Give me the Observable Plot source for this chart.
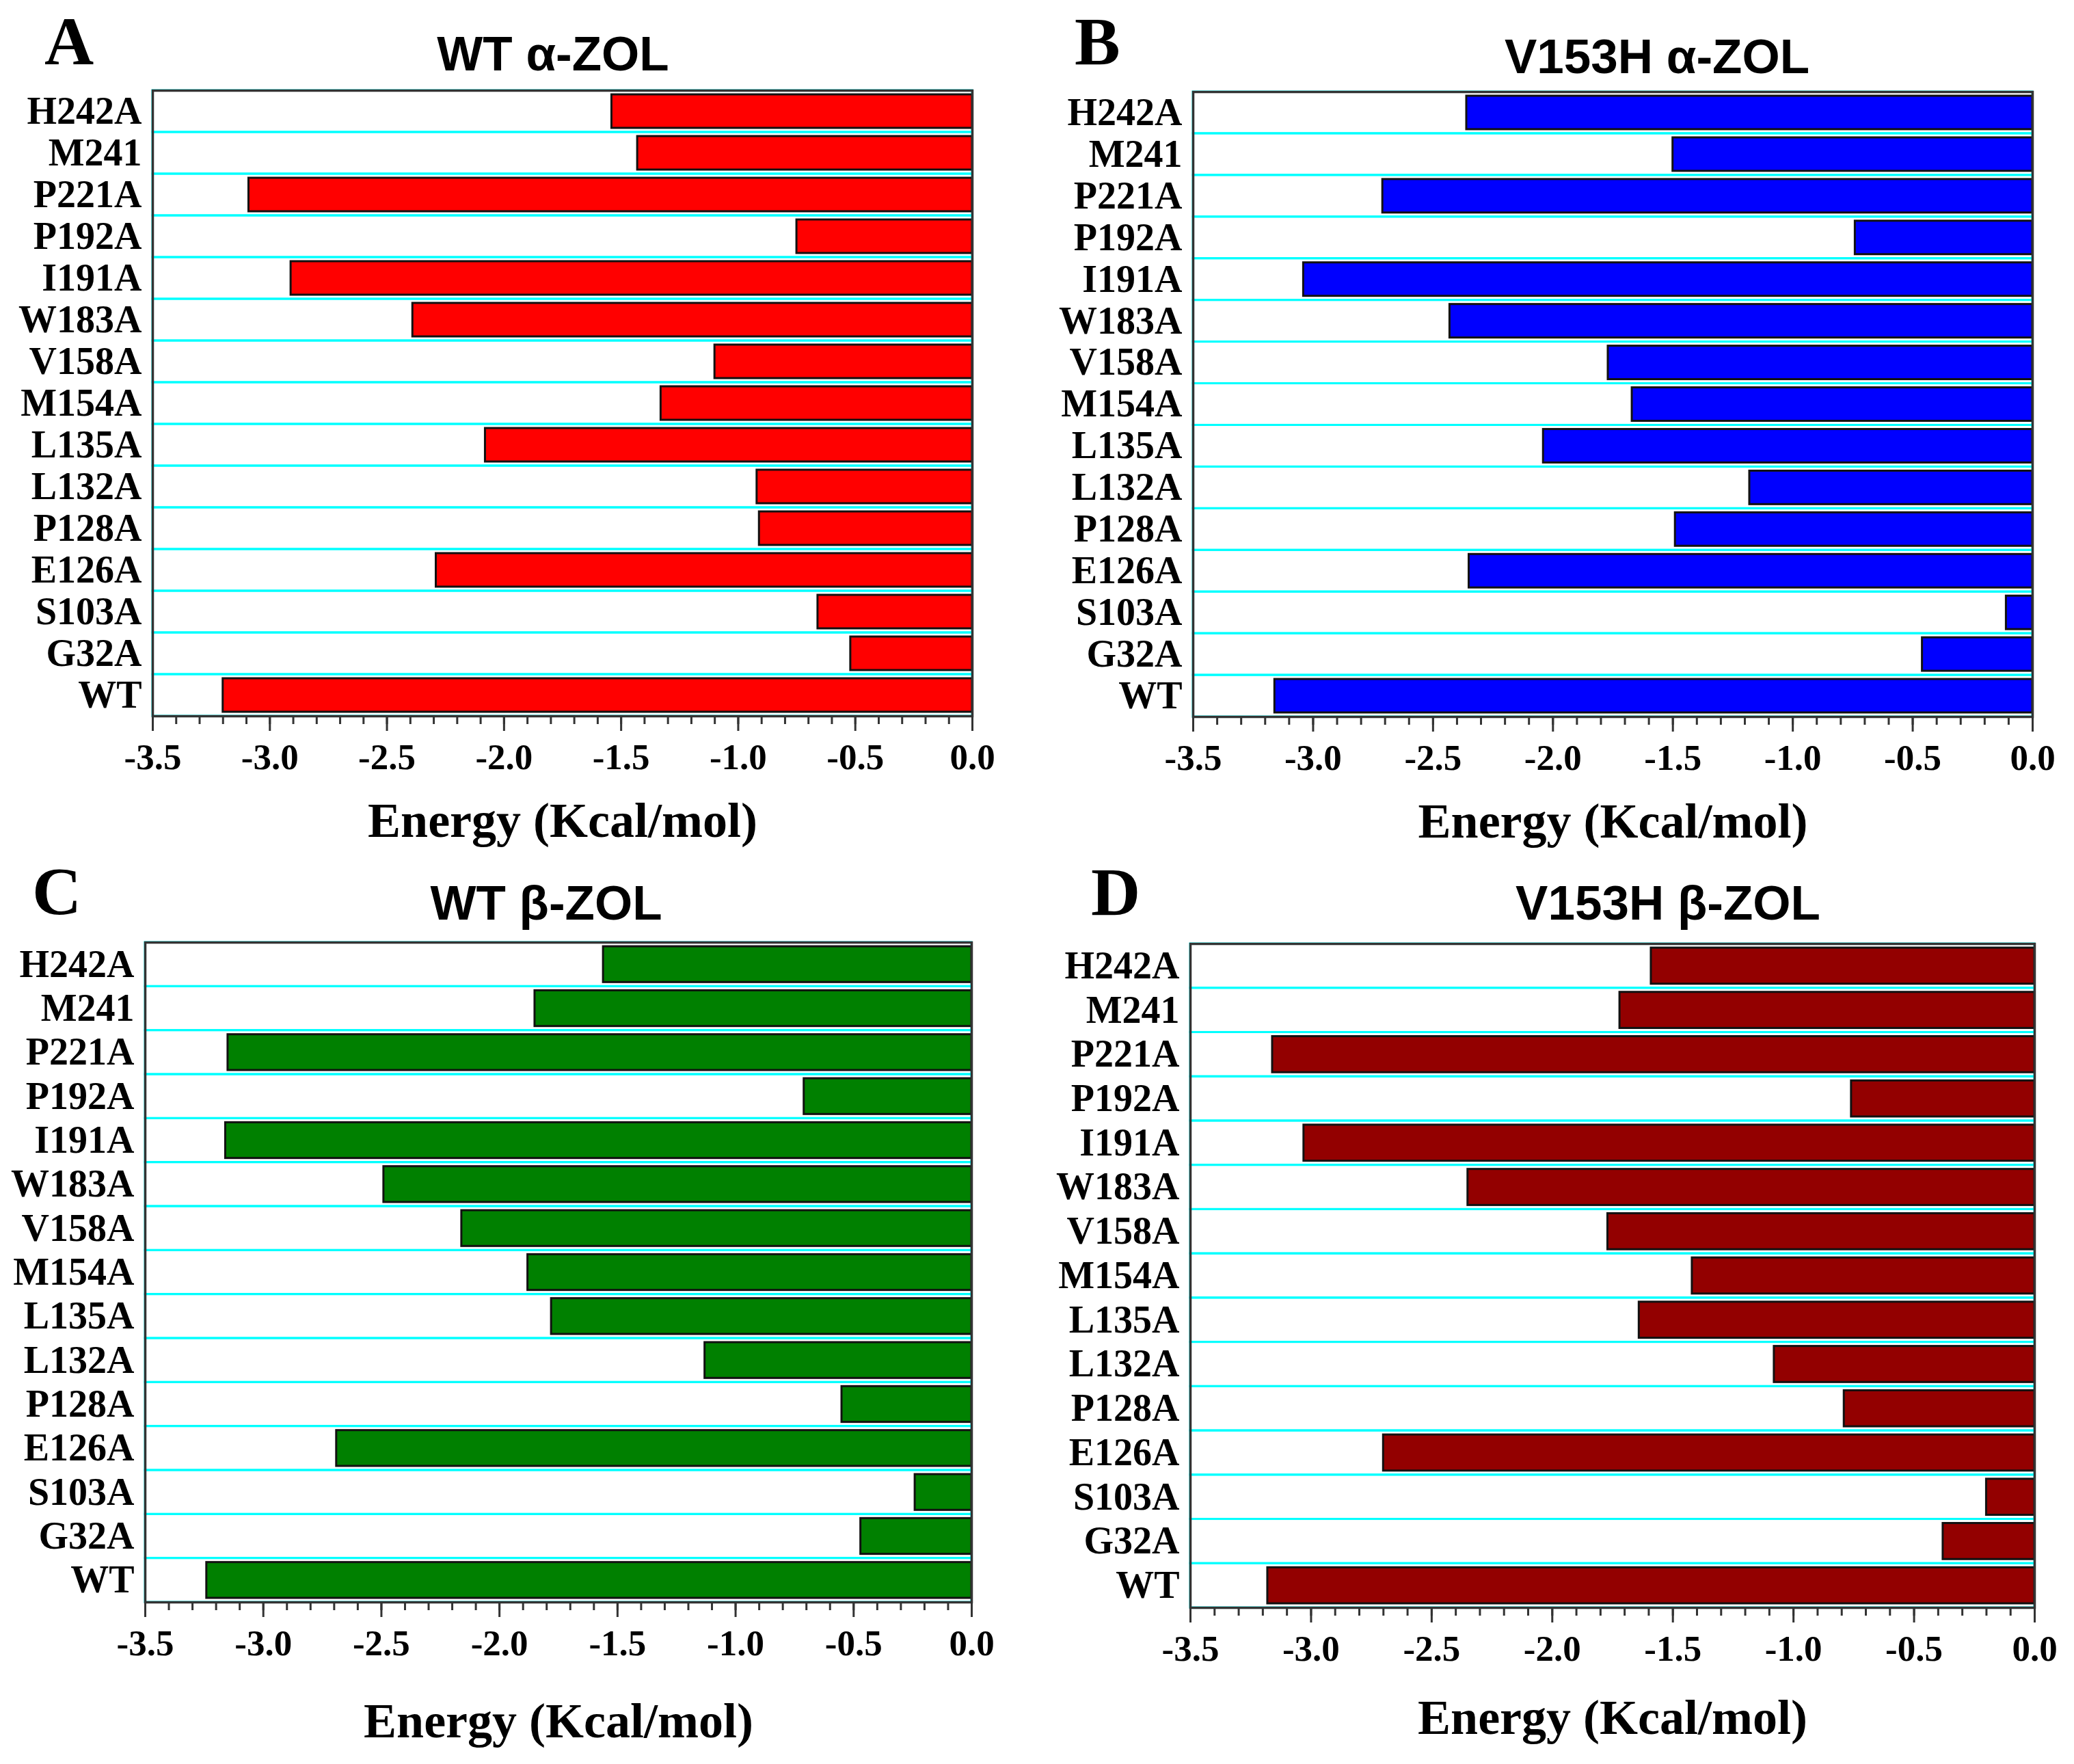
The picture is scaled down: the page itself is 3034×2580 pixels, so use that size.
<!DOCTYPE html>
<html>
<head>
<meta charset="utf-8">
<script src="https://cdn.jsdelivr.net/npm/d3@7"></script>
<script src="https://cdn.jsdelivr.net/npm/@observablehq/plot@0.6"></script>
<style>
  html, body { margin: 0; padding: 0; background: #fff; }
  #fig { position: relative; width: 3034px; height: 2580px; overflow: hidden; background: #fff; }
  .letter { position: absolute; font-family: "Liberation Serif", "Times New Roman", serif; font-weight: bold;
            font-size: 100px; line-height: 1; white-space: nowrap; color: #000; }
  .title { position: absolute; width: 1000px; text-align: center; font-family: "Liberation Sans", Arial, sans-serif;
           font-weight: bold; font-size: 71px; line-height: 1; white-space: nowrap; color: #000; }
  .panel { position: absolute; }
</style>
</head>
<body>
<div id="fig"></div>
<script>
// ---------------- data ----------------
const residues = ["H242A", "M241", "P221A", "P192A", "I191A", "W183A", "V158A", "M154A",
                  "L135A", "L132A", "P128A", "E126A", "S103A", "G32A", "WT"];

const wtAlpha    = [-1.54, -1.43, -3.09, -0.75, -2.91, -2.39, -1.10, -1.33, -2.08, -0.92, -0.91, -2.29, -0.66, -0.52, -3.20];
const v153hAlpha = [-2.36, -1.50, -2.71, -0.74, -3.04, -2.43, -1.77, -1.67, -2.04, -1.18, -1.49, -2.35, -0.11, -0.46, -3.16];
const wtBeta     = [-1.56, -1.85, -3.15, -0.71, -3.16, -2.49, -2.16, -1.88, -1.78, -1.13, -0.55, -2.69, -0.24, -0.47, -3.24];
const v153hBeta  = [-1.59, -1.72, -3.16, -0.76, -3.03, -2.35, -1.77, -1.42, -1.64, -1.08, -0.79, -2.70, -0.20, -0.38, -3.18];

const panelLetters = ["A", "B", "C", "D"];
const panelTitles  = ["WT α-ZOL", "V153H α-ZOL", "WT β-ZOL", "V153H β-ZOL"];
const xTitle = "Energy (Kcal/mol)";
const xDomain = [-3.5, 0];
const majorTicks = [-3.5, -3.0, -2.5, -2.0, -1.5, -1.0, -0.5, 0.0];
const minorTicks = d3.ticks(-3.5, 0, 35);

// ---------------- layout / style ----------------
const series = [wtAlpha, v153hAlpha, wtBeta, v153hBeta];
const colors = ["#ff0000", "#0000ff", "#008000", "#930000"];
const layout = [
  {frame: {l: 223,  r: 1422, t: 132,  b: 1047}, letter: {x: 65,   base: 95},   title: {cx: 809,  base: 103},  labelDy: 176},
  {frame: {l: 1745, r: 2973, t: 134,  b: 1048}, letter: {x: 1572, base: 95},   title: {cx: 2424, base: 107},  labelDy: 176},
  {frame: {l: 212,  r: 1421, t: 1378, b: 2343}, letter: {x: 47,   base: 1338}, title: {cx: 799,  base: 1345}, labelDy: 197},
  {frame: {l: 1741, r: 2976, t: 1380, b: 2351}, letter: {x: 1596, base: 1339}, title: {cx: 2440, base: 1345}, labelDy: 184}
];

const serif = "'Liberation Serif', 'Times New Roman', serif";
const fig = document.getElementById("fig");
const ML = 210, MR = 56, MT = 12, MB = 235;
const LETTER_FS = 100;

series.forEach((values, k) => {
  const L = layout[k];
  const f = L.frame;

  const letter = document.createElement("div");
  letter.className = "letter";
  letter.textContent = panelLetters[k];
  letter.style.left = L.letter.x + "px";
  letter.style.top = (L.letter.base - 0.8375 * LETTER_FS) + "px";
  fig.appendChild(letter);

  const title = document.createElement("div");
  title.className = "title";
  title.textContent = panelTitles[k];
  title.style.left = (L.title.cx - 500) + "px";
  title.style.top = (L.title.base - 0.8465 * 71) + "px";
  fig.appendChild(title);

  const data = residues.map((r, i) => ({residue: r, energy: values[i]}));

  const chart = Plot.plot({
    width: f.r - f.l + ML + MR,
    height: f.b - f.t + MT + MB,
    marginLeft: ML, marginRight: MR, marginTop: MT, marginBottom: MB,
    style: {background: "transparent", maxWidth: "none", fontFamily: serif, fontWeight: "bold", fontSize: "53px", color: "#000", overflow: "visible"},
    x: {domain: xDomain, round: false},
    y: {type: "band", domain: residues, padding: 0, round: false},
    marks: [
      Plot.barX(residues, {y: d => d, x1: () => xDomain[0], x2: () => xDomain[1], fill: "none", stroke: "#00ffff", strokeWidth: 3}),
      Plot.barX(data, {y: "residue", x1: () => 0, x2: "energy", fill: colors[k], stroke: "#111", strokeWidth: 3, insetTop: 6, insetBottom: 6}),
      Plot.frame({stroke: "#333", strokeWidth: 3.5}),
      Plot.axisX({ticks: minorTicks, tickSize: 12, tickFormat: () => "", stroke: "#333", strokeWidth: 3, label: null}),
      Plot.axisX({ticks: majorTicks, tickSize: 22, tickPadding: 18, tickFormat: d => d.toFixed(1), stroke: "#333", strokeWidth: 3,
                  fontSize: 53, fontFamily: serif, fontWeight: "bold", fill: "#000", label: null}),
      Plot.axisY({tickSize: 0, tickPadding: 16, fontSize: 56, fontFamily: serif, fontWeight: "bold", fill: "#000", label: null}),
      Plot.text([xTitle], {text: d => d, frameAnchor: "bottom", dy: L.labelDy, fontSize: 72, fontFamily: serif, fontWeight: "bold", fill: "#000"})
    ]
  });

  const holder = document.createElement("div");
  holder.className = "panel";
  holder.style.left = (f.l - ML) + "px";
  holder.style.top = (f.t - MT) + "px";
  holder.appendChild(chart);
  fig.appendChild(holder);
});
</script>
</body>
</html>
